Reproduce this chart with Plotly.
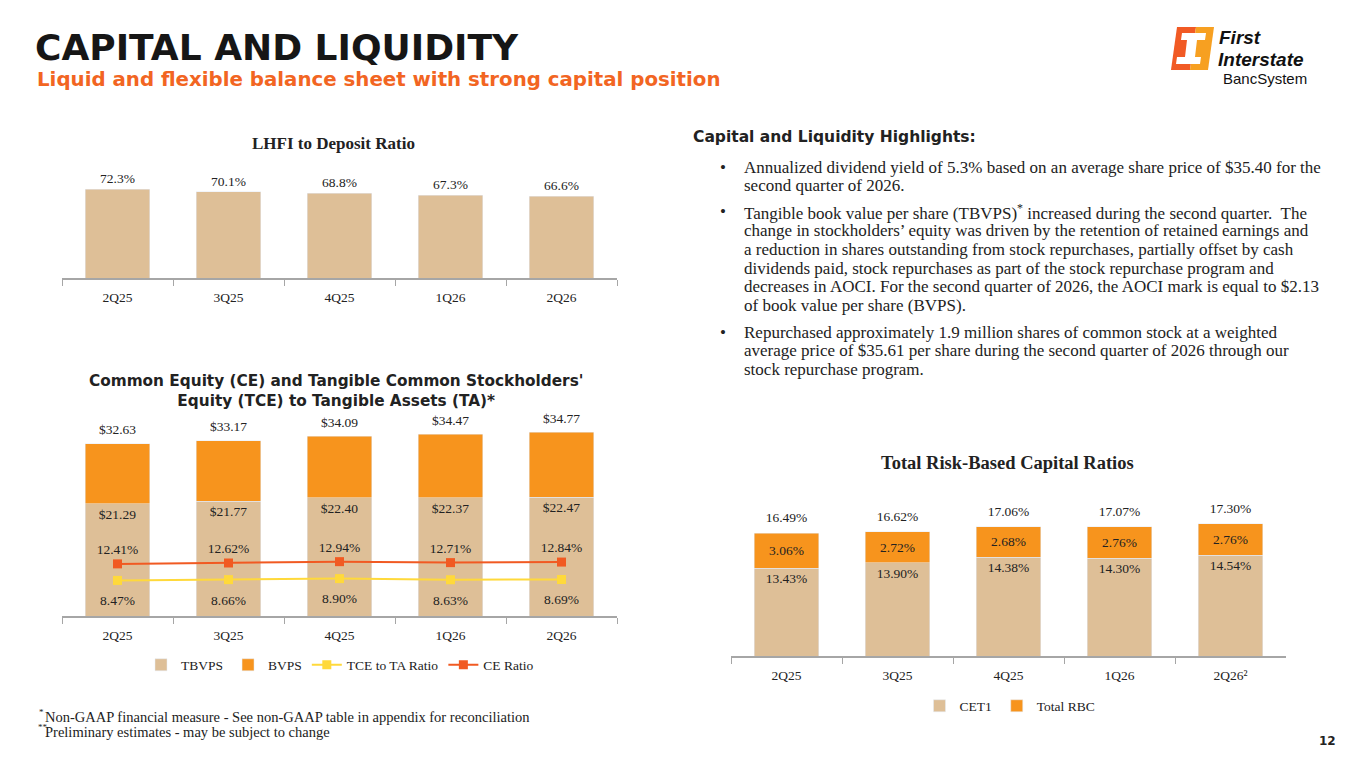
import plotly.graph_objects as go

# browser adds an 8px body margin, so the figure is drawn 8px smaller and shifted
OFF = 8
W, H = 1365 - 2 * OFF, 768 - 2 * OFF

quarters = ["2Q25", "3Q25", "4Q25", "1Q26", "2Q26"]
risk_quarters = ["2Q25", "3Q25", "4Q25", "1Q26", "2Q26²"]

lhfi_ratio = [72.3, 70.1, 68.8, 67.3, 66.6]

tbvps = [21.29, 21.77, 22.40, 22.37, 22.47]
bvps = [32.63, 33.17, 34.09, 34.47, 34.77]
ce_ratio = [12.41, 12.62, 12.94, 12.71, 12.84]
tce_ratio = [8.47, 8.66, 8.90, 8.63, 8.69]

cet1 = [13.43, 13.90, 14.38, 14.30, 14.54]
rbc_extra = [3.06, 2.72, 2.68, 2.76, 2.76]
total_rbc = [16.49, 16.62, 17.06, 17.07, 17.30]

bullets = [
    ["Annualized dividend yield of 5.3% based on an average share price of $35.40 for the",
     "second quarter of 2026."],
    ["Tangible book value per share (TBVPS)<sup>*</sup> increased during the second quarter.  The",
     "change in stockholders\u2019 equity was driven by the retention of retained earnings and",
     "a reduction in shares outstanding from stock repurchases, partially offset by cash",
     "dividends paid, stock repurchases as part of the stock repurchase program and",
     "decreases in AOCI. For the second quarter of 2026, the AOCI mark is equal to $2.13",
     "of book value per share (BVPS)."],
    ["Repurchased approximately 1.9 million shares of common stock at a weighted",
     "average price of $35.61 per share during the second quarter of 2026 through our",
     "stock repurchase program."],
]

TAN = "#DEBF97"
ORANGE = "#F7941D"
RED_OR = "#F15A22"
YELLOW = "#FFD93B"
TXT = "#222222"
AXIS = "#A6A6A6"
SERIF = "Liberation Serif"
SANS = "DejaVu Sans"


def px(x):
    return (x - OFF) / W


def py(y):
    return 1 - (y - OFF) / H


lab_font = dict(family=SERIF, size=13.5, color=TXT)

fig = go.Figure()

# LHFI to deposit ratio
fig.add_trace(go.Bar(
    x=quarters, y=lhfi_ratio, marker_color=TAN, width=0.58,
    text=[f"{v:.1f}%" for v in lhfi_ratio], textposition="outside",
    textfont=lab_font, cliponaxis=False, showlegend=False,
    hoverinfo="skip", xaxis="x", yaxis="y",
))

# CE / TCE chart
fig.add_trace(go.Bar(
    x=quarters, y=tbvps, name="TBVPS", marker_color=TAN, width=0.58,
    text=[f"${v:.2f}" for v in tbvps], textposition="inside",
    insidetextanchor="end", insidetextfont=lab_font, constraintext="none",
    xaxis="x2", yaxis="y2", legend="legend",
))
fig.add_trace(go.Bar(
    x=quarters, y=[b - t for b, t in zip(bvps, tbvps)], name="BVPS",
    marker_color=ORANGE, width=0.58,
    xaxis="x2", yaxis="y2", legend="legend",
))
# invisible markers only push the text labels away from their points
fig.add_trace(go.Scatter(
    x=quarters, y=bvps, mode="markers+text", marker=dict(size=8, opacity=0),
    text=[f"${v:.2f}" for v in bvps],
    textposition="top center", textfont=lab_font, showlegend=False,
    cliponaxis=False, xaxis="x2", yaxis="y2",
))
fig.add_trace(go.Scatter(
    x=quarters, y=tce_ratio, name="TCE to TA Ratio", mode="lines+markers",
    line=dict(color=YELLOW, width=2), marker=dict(symbol="square", size=9, color=YELLOW),
    xaxis="x2", yaxis="y3", legend="legend",
))
fig.add_trace(go.Scatter(
    x=quarters, y=tce_ratio, mode="markers+text", marker=dict(size=22, opacity=0),
    text=[f"{v:.2f}%" for v in tce_ratio], textposition="bottom center",
    textfont=lab_font, showlegend=False, xaxis="x2", yaxis="y3",
))
fig.add_trace(go.Scatter(
    x=quarters, y=ce_ratio, name="CE Ratio", mode="lines+markers+text",
    line=dict(color=RED_OR, width=2), marker=dict(symbol="square", size=9, color=RED_OR),
    text=[f"{v:.2f}%" for v in ce_ratio], textposition="top center",
    textfont=lab_font, xaxis="x2", yaxis="y3", legend="legend",
))

# Total risk-based capital
fig.add_trace(go.Bar(
    x=risk_quarters, y=cet1, name="CET1", marker_color=TAN, width=0.58,
    text=[f"{v:.2f}%" for v in cet1], textposition="inside",
    insidetextanchor="end", insidetextfont=lab_font, constraintext="none",
    xaxis="x3", yaxis="y4", legend="legend2",
))
fig.add_trace(go.Bar(
    x=risk_quarters, y=rbc_extra, name="Total RBC", marker_color=ORANGE, width=0.58,
    text=[f"{v:.2f}%" for v in rbc_extra], textposition="inside",
    insidetextanchor="middle", insidetextfont=lab_font, constraintext="none",
    xaxis="x3", yaxis="y4", legend="legend2",
))
fig.add_trace(go.Scatter(
    x=risk_quarters, y=total_rbc, mode="markers+text", marker=dict(size=10, opacity=0),
    text=[f"{v:.2f}%" for v in total_rbc],
    textposition="top center", textfont=lab_font, showlegend=False,
    cliponaxis=False, xaxis="x3", yaxis="y4",
))

cat_axis = dict(
    type="category", showline=True, linecolor=AXIS, linewidth=1.5,
    ticks="outside", tickson="boundaries", ticklen=6, tickcolor=AXIS,
    tickfont=lab_font, ticklabelstandoff=6, showgrid=False, zeroline=False,
    fixedrange=True,
)
hid = dict(visible=False, showgrid=False, zeroline=False, fixedrange=True)

fig.update_layout(
    width=W, height=H, margin=dict(l=0, r=0, t=0, b=0),
    paper_bgcolor="white", plot_bgcolor="white",
    barmode="stack", hovermode=False,
    xaxis=dict(cat_axis, domain=[px(62), px(617)], anchor="y"),
    yaxis=dict(hid, domain=[py(278), py(160)], range=[0, 118 / 1.23]),
    xaxis2=dict(cat_axis, domain=[px(62), px(617)], anchor="y2"),
    yaxis2=dict(hid, domain=[py(616), py(420)], range=[0, 196 / 5.28]),
    yaxis3=dict(hid, overlaying="y2", range=[0, 196 / 4.2]),
    xaxis3=dict(cat_axis, domain=[px(731), px(1286)], anchor="y4"),
    yaxis4=dict(hid, domain=[py(656), py(500)], range=[5.74, 5.74 + 156 / 11.44]),
    legend=dict(orientation="h", x=px(340), xanchor="center", y=py(665), yanchor="middle",
                traceorder="normal", font=lab_font, bgcolor="rgba(0,0,0,0)"),
    legend2=dict(orientation="h", x=px(1010), xanchor="center", y=py(706), yanchor="middle",
                 traceorder="normal", font=lab_font, bgcolor="rgba(0,0,0,0)"),
)

ann = []


def note(x, y, text, font, xanchor="left", align="left"):
    ann.append(dict(x=px(x), y=py(y), xref="paper", yref="paper", text=text,
                    showarrow=False, xanchor=xanchor, yanchor="middle", font=font, align=align))


note(33, 47, "<b>CAPITAL AND LIQUIDITY</b>", dict(family=SANS, size=36, color="#161616"))
note(35, 80, "<b>Liquid and flexible balance sheet with strong capital position</b>",
     dict(family=SANS, size=19.8, color="#F26522"))

note(333, 143, "<b>LHFI to Deposit Ratio</b>", dict(family=SERIF, size=17, color=TXT), "center")
note(336, 391, "<b>Common Equity (CE) and Tangible Common Stockholders'<br>Equity (TCE) to Tangible Assets (TA)*</b>",
     dict(family=SANS, size=15.3, color=TXT), "center", "center")
note(1007, 463, "<b>Total Risk-Based Capital Ratios</b>", dict(family=SERIF, size=18.5, color=TXT), "center")

note(691, 137, "<b>Capital and Liquidity Highlights:</b>", dict(family=SANS, size=15.5, color=TXT))
body_font = dict(family=SERIF, size=17, color=TXT)
starts = [167, 212, 332]
for start, lines in zip(starts, bullets):
    note(718, start, "\u2022", body_font)
    for i, line in enumerate(lines):
        note(742, start + i * 18.7, line, body_font)

foot_font = dict(family=SERIF, size=14.5, color=TXT)
small = dict(family=SERIF, size=9, color=TXT)
note(37, 712, "*", small)
note(36, 727, "**", small)
note(43, 717, "Non-GAAP financial measure - See non-GAAP table in appendix for reconciliation", foot_font)
note(43, 732, "Preliminary estimates - may be subject to change", foot_font)
note(1338, 741, "<b>12</b>", dict(family=SANS, size=12, color=TXT), "right")

# logo text
logo_font = dict(family="Liberation Sans", size=19, color="#111")
note(1217, 38, "<b><i>First</i></b>", logo_font)
note(1216, 59, "<b><i>Interstate</i></b>", logo_font)
note(1221, 78, "BancSystem", dict(family="Liberation Sans", size=15, color="#111"))

fig.update_layout(annotations=ann)


def path(points):
    return "M " + " L ".join(f"{px(a):.5f},{py(b):.5f}" for a, b in points) + " Z"


shapes = [
    dict(type="path", path=path([(1177, 27), (1196, 27), (1190, 70), (1171, 70)]),
         fillcolor="#F15A24", line_width=0),
    dict(type="path", path=path([(1196, 27), (1214, 27), (1208, 70), (1190, 70)]),
         fillcolor="#F7A021", line_width=0),
    dict(type="path", path=path([(1182, 33), (1206, 33), (1205, 40), (1197, 40), (1195, 57),
                                 (1201, 57), (1200, 64), (1176, 64), (1177, 57), (1185, 57),
                                 (1187, 40), (1181, 40)]),
         fillcolor="white", line_width=0),
]
for s in shapes:
    s.update(xref="paper", yref="paper")
fig.update_layout(shapes=shapes)

fig.write_html("out.html")
